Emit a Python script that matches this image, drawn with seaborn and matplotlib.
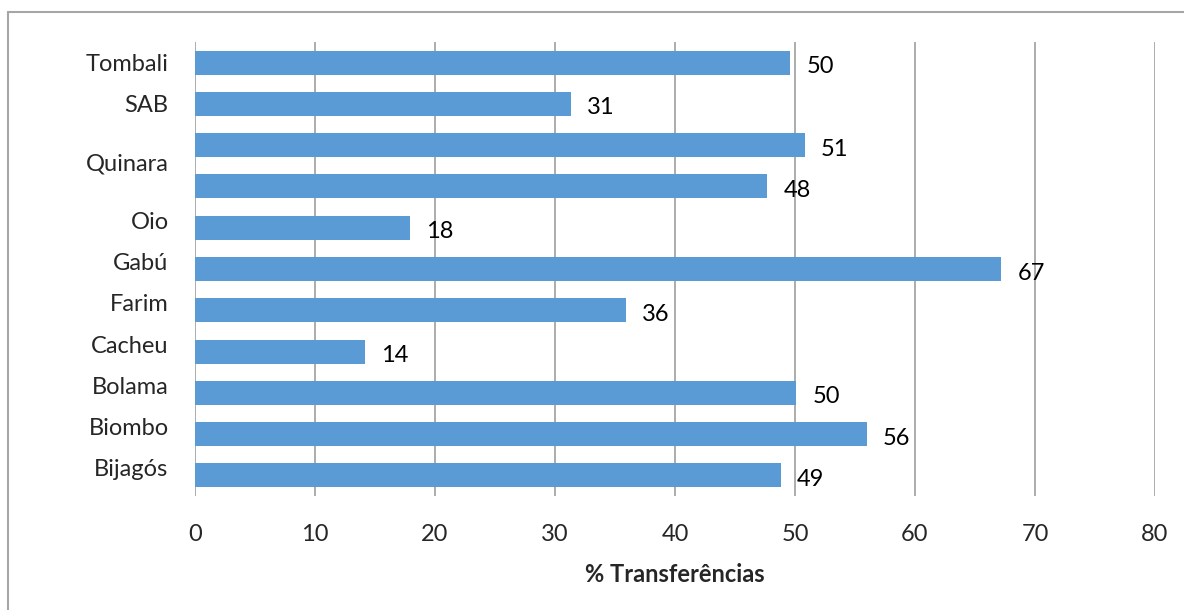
import matplotlib
matplotlib.use("Agg")
import matplotlib.pyplot as plt
import matplotlib.transforms as mtransforms
from matplotlib.lines import Line2D
import seaborn as sns
import pandas as pd

# ---- data ----
bar_keys = ["Tombali", "SAB", "Quinara_a", "Quinara_b", "Oio", "Gabú",
            "Farim", "Cacheu", "Bolama", "Biombo", "Bijagós"]
values = [49.6, 31.3, 50.8, 47.7, 17.9, 67.2, 35.9, 14.2, 50.1, 56.0, 48.8]
tick_labels = ["Tombali", "SAB", "Quinara", "Oio", "Gabú", "Farim",
               "Cacheu", "Bolama", "Biombo", "Bijagós"]
x_ticks = [0, 10, 20, 30, 40, 50, 60, 70, 80]
x_title = "% Transferências"

BAR_COLOR = "#5B9BD5"
GRID_COLOR = "#A6A6A6"
FS = 17

sns.set_theme(style="white")
plt.rcParams["font.family"] = ["Lato", "DejaVu Sans"]

df = pd.DataFrame({"key": bar_keys, "value": values})

fig = plt.figure(figsize=(11.84, 6.10), dpi=100)
ax = fig.add_axes([195 / 1184, 1 - 496 / 610, 960 / 1184, 454 / 610])

sns.barplot(data=df, x="value", y="key", orient="h", color=BAR_COLOR,
            width=0.58, saturation=1, ax=ax, zorder=3, linewidth=0)

ax.set_xlim(0, 80)
ax.set_ylim(len(bar_keys) - 0.5, -0.5)
ax.set_xticks(x_ticks)
ax.set_xticklabels([str(t) for t in x_ticks], fontsize=FS)
ax.tick_params(axis="x", length=0, pad=20)
ax.tick_params(axis="y", length=0, pad=19)
for s in ax.spines.values():
    s.set_visible(False)
ax.xaxis.grid(True, color=GRID_COLOR, linewidth=1.3, zorder=0)
ax.set_axisbelow(True)

# y tick labels: Quinara spans its two bars
positions = []
pos_map = {k: i for i, k in enumerate(bar_keys)}
for lab in tick_labels:
    if lab == "Quinara":
        positions.append((pos_map["Quinara_a"] + pos_map["Quinara_b"]) / 2 - 0.1)
    elif lab in ("Tombali", "SAB"):
        positions.append(pos_map[lab])
    else:
        positions.append(pos_map[lab] - 0.18)
ax.set_yticks(positions)
ax.set_yticklabels(tick_labels, fontsize=FS)
ax.set_ylabel("")
ax.set_xlabel(x_title, fontsize=FS, fontweight="bold", labelpad=13)

# data labels
offset = mtransforms.ScaledTranslation(16 / 100, -4 / 100, fig.dpi_scale_trans)
for i, v in enumerate(values):
    ax.text(v, i, f"{v:.0f}", fontsize=FS, ha="left", va="center",
            transform=ax.transData + offset, color="black")

# outer frame (left and top edges visible)
fig.add_artist(Line2D([8 / 1184, 8 / 1184], [0, 1 - 12 / 610],
                      transform=fig.transFigure, color="#A6A6A6", linewidth=1.5))
fig.add_artist(Line2D([8 / 1184, 1], [1 - 12 / 610, 1 - 12 / 610],
                      transform=fig.transFigure, color="#A6A6A6", linewidth=1.5))

fig.savefig("out.png", dpi=100, facecolor="white")
